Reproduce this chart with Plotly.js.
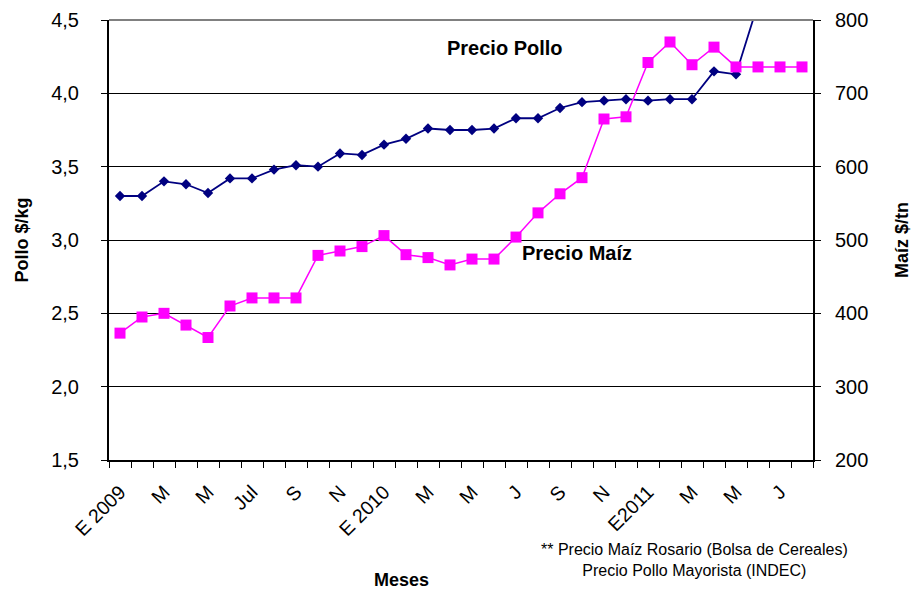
<!DOCTYPE html>
<html>
<head>
<meta charset="utf-8">
<script src="https://cdn.plot.ly/plotly-3.0.1.min.js"></script>
<style>html,body{margin:0;padding:0;background:#fff;}#chart{width:914px;height:590px;}</style>
</head>
<body>
<div id="chart"></div>
<script>
// Months (categories), Jan 2009 .. Aug 2011
const months = [
  "Ene 2009","Feb 2009","Mar 2009","Abr 2009","May 2009","Jun 2009","Jul 2009","Ago 2009","Sep 2009","Oct 2009","Nov 2009","Dic 2009",
  "Ene 2010","Feb 2010","Mar 2010","Abr 2010","May 2010","Jun 2010","Jul 2010","Ago 2010","Sep 2010","Oct 2010","Nov 2010","Dic 2010",
  "Ene 2011","Feb 2011","Mar 2011","Abr 2011","May 2011","Jun 2011","Jul 2011","Ago 2011"
];
// Displayed tick labels (one per month, blank = no label)
const tickLabels = [
  "E 2009","","M","","M","","Jul","","S","","N","",
  "E 2010","","M","","M","","J","","S","","N","",
  "E2011","","M","","M","","J",""
];
// Precio Pollo ($/kg), left axis
const pollo = [3.30,3.30,3.40,3.38,3.32,3.42,3.42,3.48,3.51,3.50,3.59,3.58,
               3.65,3.69,3.76,3.75,3.75,3.76,3.83,3.83,3.90,3.94,3.95,3.96,
               3.95,3.96,3.96,4.15,4.13,4.61];
// Precio Maíz ($/tn), right axis
const maiz = [373,395,400,384,367,410,421,421,421,479,485,491,
              506,480,476,466,474,474,504,537,563,585,665,668,
              742,770,739,763,736,736,736,736];

const FONT = "Liberation Sans, Arial, sans-serif";

const traces = [
  {
    x: months.slice(0, maiz.length), y: maiz, yaxis: "y2", type: "scatter", mode: "lines+markers",
    name: "Precio Maíz",
    line: {color: "#FF00FF", width: 1.5},
    marker: {symbol: "square", size: 11, color: "#FF00FF"}
  },
  {
    x: months.slice(0, pollo.length), y: pollo, type: "scatter", mode: "lines+markers",
    name: "Precio Pollo",
    line: {color: "#000080", width: 1.8},
    marker: {symbol: "diamond", size: 8, color: "#000080"}
  }
];

const layout = {
  width: 914, height: 590,
  margin: {l: 109, r: 101, t: 20, b: 130},
  paper_bgcolor: "#fff", plot_bgcolor: "#fff",
  showlegend: false,
  font: {family: FONT, color: "#000"},
  separators: ",.",
  xaxis: {
    type: "category",
    categoryorder: "array", categoryarray: months,
    range: [-0.5, months.length - 0.5],
    tickmode: "array", tickvals: months, ticktext: tickLabels,
    tickson: "boundaries",
    ticks: "outside", ticklen: 6, tickcolor: "#000", tickwidth: 1,
    tickangle: -45,
    tickfont: {size: 19.5, family: FONT},
    ticklabelstandoff: 11,
    showline: true, linecolor: "#000", linewidth: 2,
    showgrid: false, zeroline: false
  },
  yaxis: {
    range: [1.5, 4.5], dtick: 0.5, tick0: 1.5,
    tickformat: ".1f",
    ticks: "outside", ticklen: 6, tickcolor: "#000",
    tickfont: {size: 20, family: FONT},
    ticklabelstandoff: 18,
    showline: true, linecolor: "#000", linewidth: 2,
    showgrid: true, gridcolor: "#000", gridwidth: 1,
    zeroline: false,
    title: {text: "<b>Pollo $/kg</b>", font: {size: 18, family: FONT}, standoff: 18}
  },
  yaxis2: {
    overlaying: "y", side: "right",
    range: [200, 800], dtick: 100,
    ticks: "outside", ticklen: 6, tickcolor: "#000",
    tickfont: {size: 20, family: FONT},
    ticklabelstandoff: 10,
    showline: true, linecolor: "#000", linewidth: 2,
    showgrid: false, zeroline: false,
    title: {text: "<b>Maíz $/tn</b>", font: {size: 18, family: FONT}, standoff: 28}
  },
  shapes: [
    {type: "line", xref: "paper", yref: "paper", x0: 0, x1: 1, y0: 1, y1: 1,
     line: {color: "#808080", width: 2}}
  ],
  annotations: [
    {text: "<b>Precio Pollo</b>", xref: "paper", yref: "paper", x: 0.5625, y: 0.936,
     xanchor: "center", yanchor: "middle", showarrow: false, font: {size: 20, family: FONT}},
    {text: "<b>Precio Maíz</b>", xref: "paper", yref: "paper", x: 0.665, y: 0.47,
     xanchor: "center", yanchor: "middle", showarrow: false, font: {size: 20, family: FONT}},
    {text: "<b>Meses</b>", xref: "paper", yref: "paper", x: 0.415, y: -0.273,
     xanchor: "center", yanchor: "middle", showarrow: false, font: {size: 18, family: FONT}},
    {text: "** Precio Maíz Rosario (Bolsa de Cereales)<br>Precio Pollo Mayorista (INDEC)",
     xref: "paper", yref: "paper", x: 0.831, y: -0.18, xanchor: "center", yanchor: "top",
     align: "center", showarrow: false, font: {size: 16, family: FONT}}
  ]
};

Plotly.newPlot("chart", traces, layout, {displayModeBar: false, staticPlot: true});
</script>
</body>
</html>
